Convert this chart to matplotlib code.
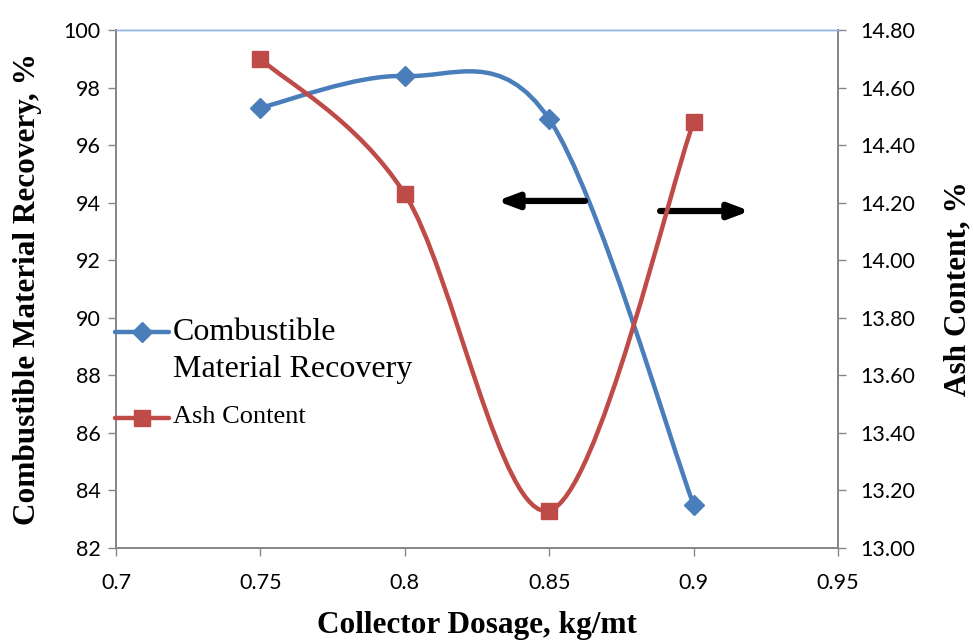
import matplotlib
matplotlib.use("Agg")
import matplotlib.pyplot as plt
from matplotlib.path import Path
from matplotlib.patches import PathPatch
import numpy as np

# Data
dosage = [0.75, 0.80, 0.85, 0.90]
recovery = [97.3, 98.4, 96.9, 83.5]
ash = [14.70, 14.23, 13.13, 14.48]

x_ticks = [0.7, 0.75, 0.8, 0.85, 0.9, 0.95]
x_tick_labels = ["0.7", "0.75", "0.8", "0.85", "0.9", "0.95"]
left_ticks = [82, 84, 86, 88, 90, 92, 94, 96, 98, 100]
right_ticks = [13.00, 13.20, 13.40, 13.60, 13.80, 14.00, 14.20, 14.40, 14.60, 14.80]

BLUE = "#4A7EBB"
RED = "#BE4B48"
GRAY = "#868686"
TICK_FONT = "Lato"
SERIF = "Liberation Serif"

W, H = 973, 642


def smooth_path(xs, ys):
    """Cubic Bezier path through the points (Catmull-Rom style control points)."""
    pts = np.column_stack([xs, ys]).astype(float)
    n = len(pts)
    verts = [pts[0]]
    codes = [Path.MOVETO]
    for i in range(n - 1):
        p0 = pts[i - 1] if i > 0 else pts[i]
        p1 = pts[i]
        p2 = pts[i + 1]
        p3 = pts[i + 2] if i + 2 < n else pts[i + 1]
        c1 = p1 + (p2 - p0) / 6.0
        c2 = p2 - (p3 - p1) / 6.0
        verts += [c1, c2, p2]
        codes += [Path.CURVE4] * 3
    return Path(verts, codes)


def fx(px):
    return px / W


def fy(py):
    return 1 - py / H


fig = plt.figure(figsize=(W / 100, H / 100), dpi=100)
ax = fig.add_axes([fx(116), fy(548), (838 - 116) / W, (548 - 30) / H])
ax2 = ax.twinx()

ax.set_xlim(0.7, 0.95)
ax.set_ylim(82, 100)
ax2.set_ylim(13.0, 14.8)

# Recovery curve (left axis)
ax.add_patch(PathPatch(smooth_path(dosage, recovery), fill=False,
                       edgecolor=BLUE, lw=3.2, capstyle="round", zorder=3))
ax.plot(dosage, recovery, ls="none", marker="D", ms=10, color=BLUE, zorder=4)

# Ash curve (right axis)
ax2.add_patch(PathPatch(smooth_path(dosage, ash), fill=False,
                        edgecolor=RED, lw=3.2, capstyle="round", zorder=3))
ax2.plot(dosage, ash, ls="none", marker="s", ms=11, color=RED, zorder=4)

# Direction arrows
arrow_kw = dict(arrowstyle="-|>,head_length=1.2,head_width=0.45", color="black",
                lw=4.5, shrinkA=0, shrinkB=0)
ax.annotate("", xy=(0.8319, 94.06), xytext=(0.8624, 94.06), arrowprops=arrow_kw, zorder=5)
ax.annotate("", xy=(0.9195, 93.71), xytext=(0.8884, 93.71), arrowprops=arrow_kw, zorder=5)

# Ticks
ax.set_xticks(x_ticks)
ax.set_xticklabels(x_tick_labels)
ax.set_yticks(left_ticks)
ax.set_yticklabels([str(v) for v in left_ticks])
ax2.set_yticks(right_ticks)
ax2.set_yticklabels([f"{v:.2f}" for v in right_ticks])

for a in (ax, ax2):
    a.tick_params(direction="out", length=6, width=1, color=GRAY, labelsize=15.5,
                  pad=5)
    for lab in a.get_xticklabels() + a.get_yticklabels():
        lab.set_fontfamily(TICK_FONT)
ax.tick_params(axis="x", pad=12)
ax2.tick_params(axis="y", pad=10)

for a in (ax, ax2):
    for s in a.spines.values():
        s.set_color(GRAY)
        s.set_linewidth(1.3)
    a.spines["top"].set_color("#8EB4E3")
    a.spines["top"].set_linewidth(1.0)
ax.spines["left"].set_color("#8497B0")

label_kw = dict(fontfamily=SERIF, fontweight="bold", fontsize=22.5)
ax.set_xlabel("Collector Dosage, kg/mt", **label_kw)
ax.set_ylabel("Combustible Material Recovery, %", **label_kw)
ax2.set_ylabel("Ash Content, %", **label_kw)
for lab in (ax.xaxis.label, ax.yaxis.label, ax2.yaxis.label):
    lab.set_va("center")
ax.xaxis.set_label_coords(0.5, (548 - 625) / 518)
ax.yaxis.set_label_coords((28 - 116) / 722, 0.5)
ax2.yaxis.set_label_coords((958 - 116) / 722, 0.5)

# Legend, drawn as figure artists
for ypix, color, marker, ms in ((332, BLUE, "D", 10), (418, RED, "s", 11)):
    fig.add_artist(plt.Line2D([fx(115), fx(169)], [fy(ypix), fy(ypix)],
                              color=color, lw=3.2, solid_capstyle="round"))
    fig.add_artist(plt.Line2D([fx(142)], [fy(ypix)], color=color, ls="none",
                              marker=marker, ms=ms))
fig.text(fx(173), fy(333), "Combustible", family=SERIF, fontsize=23, va="center")
fig.text(fx(173), fy(370), "Material Recovery", family=SERIF, fontsize=23, va="center")
fig.text(fx(173), fy(417), "Ash Content", family=SERIF, fontsize=19, va="center")

fig.savefig("out.png", dpi=100)
